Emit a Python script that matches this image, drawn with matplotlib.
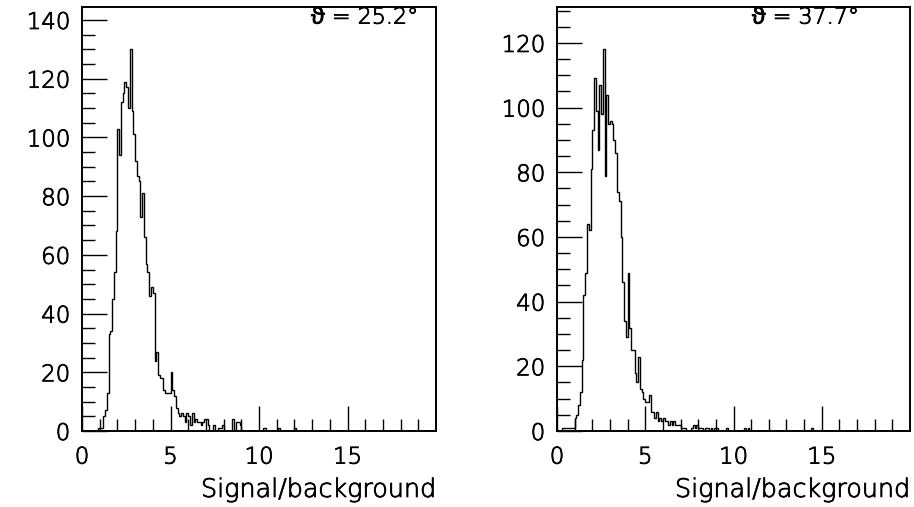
import numpy as np
import matplotlib
matplotlib.use("Agg")
import matplotlib.pyplot as plt
import matplotlib.patheffects as pe

plt.rcParams['font.family'] = ['DejaVu Sans', 'Noto Sans']
plt.rcParams['font.weight'] = 'light'

# 200 bins of 0.1 between 0 and 20
bin_width = 0.1
n_bins = 200

# theta = 25.2 deg: counts starting at bin 0.9
left_start = 0.9
left_counts = [
    1, 1, 1, 5, 7, 13, 33, 34, 45, 54,          # 0.9 - 1.8
    68, 103, 94, 112, 115, 119, 117, 110, 130, 109,  # 1.9 - 2.8
    101, 92, 87, 85, 73, 81, 66, 57, 54, 46,    # 2.9 - 3.8
    49, 47, 24, 27, 19, 18, 18, 14, 13, 13,     # 3.9 - 4.8
    13, 20, 14, 12, 8, 6, 5, 6, 5, 3,           # 4.9 - 5.8
    6, 5, 2, 6, 3, 4, 3, 3, 2, 3,               # 5.9 - 6.8
    4, 4, 2, 0, 0, 2, 0, 0, 1, 1,               # 6.9 - 7.8
    2, 0, 0, 0, 0, 0, 4, 0, 3, 3,               # 7.9 - 8.8
    2, 0, 0, 0, 0, 0, 0, 0, 0, 0,               # 8.9 - 9.8
    0, 0, 0, 1, 1, 0, 0, 0, 0, 0,               # 9.9 - 10.8
    0, 0, 1,                                    # 10.9 - 11.1
]
left_extra = {12.0: 1}

# theta = 37.7 deg: counts starting at bin 0.3
right_start = 0.3
right_counts = [
    1, 1, 1, 1, 1, 1, 1, 4, 5, 8,               # 0.3 - 1.2
    12, 22, 42, 49, 64, 62, 81, 93, 109, 99,    # 1.3 - 2.2
    87, 107, 98, 118, 79, 104, 95, 96, 95, 90,  # 2.3 - 3.2
    86, 74, 71, 60, 46, 34, 29, 49, 32, 25,     # 3.3 - 4.2
    25, 18, 15, 23, 13, 12, 10, 9, 9, 11,       # 4.3 - 5.2
    6, 6, 4, 6, 3, 4, 3, 4, 3, 3,               # 5.3 - 6.2
    2, 3, 2, 3, 2, 2, 2, 1, 1, 1,               # 6.3 - 7.2
    0, 0, 0, 1, 2, 1, 2, 1, 1, 1,               # 7.3 - 8.2
    0, 1, 1, 0, 1, 0, 1, 1, 0, 0,               # 8.3 - 9.2
    0, 0, 0, 1, 0, 0, 0, 0, 0, 0,               # 9.3 - 10.2
    0, 0, 0, 1, 0, 1,                           # 10.3 - 10.8
]
right_extra = {14.4: 1}

angles = ["25.2", "37.7"]
y_tops = [144.4, 131.1]
label_x = [0.647, 0.552]


def full_hist(start, counts, extra):
    h = np.zeros(n_bins)
    i0 = int(round(start / bin_width))
    h[i0:i0 + len(counts)] = counts
    for x, c in extra.items():
        h[int(round(x / bin_width))] = c
    return h


edges = np.linspace(0, 20, n_bins + 1)
hists = [full_hist(left_start, left_counts, left_extra),
         full_hist(right_start, right_counts, right_extra)]

# thin outline to darken the light face a bit
ink = [pe.withStroke(linewidth=0.6, foreground='black')]

fig = plt.figure(figsize=(9.14, 5.07), dpi=100)
W, H = 914, 507
boxes = [(82, 436), (557, 910)]

for (x0, x1), h, ang, ytop, lx in zip(boxes, hists, angles, y_tops, label_x):
    ax = fig.add_axes([x0 / W, 1 - 431 / H, (x1 - x0) / W, (431 - 7) / H])
    ax.stairs(h, edges, color='black', linewidth=1.0, baseline=None)
    ax.set_xlim(0, 20)
    ax.set_ylim(0, ytop)

    ax.set_xticks(np.arange(0, 20, 5))
    ax.set_xticks(np.arange(0, 20, 1), minor=True)
    ax.set_yticks(np.arange(0, ytop, 20))
    ax.set_yticks(np.arange(0, ytop, 5), minor=True)
    ax.tick_params(which='both', direction='in', top=False, right=False,
                   width=1, color='black', labelsize=16.5)
    ax.tick_params(which='major', length=18)
    ax.tick_params(which='minor', length=9)
    ax.tick_params(axis='x', pad=10.5)
    ax.tick_params(axis='y', pad=8.5)
    for s in ax.spines.values():
        s.set_linewidth(1.4)
    for t in ax.get_xticklabels() + ax.get_yticklabels():
        t.set_path_effects(ink)

    ax.text(lx, 0.975, "\u03d1 = " + ang + "\u00b0", transform=ax.transAxes,
            fontsize=16, ha='left', va='center', path_effects=ink)
    ax.text(1.0, -0.139, "Signal/background", transform=ax.transAxes,
            fontsize=18.3, ha='right', va='center', path_effects=ink)

fig.savefig("out.png", dpi=100)
